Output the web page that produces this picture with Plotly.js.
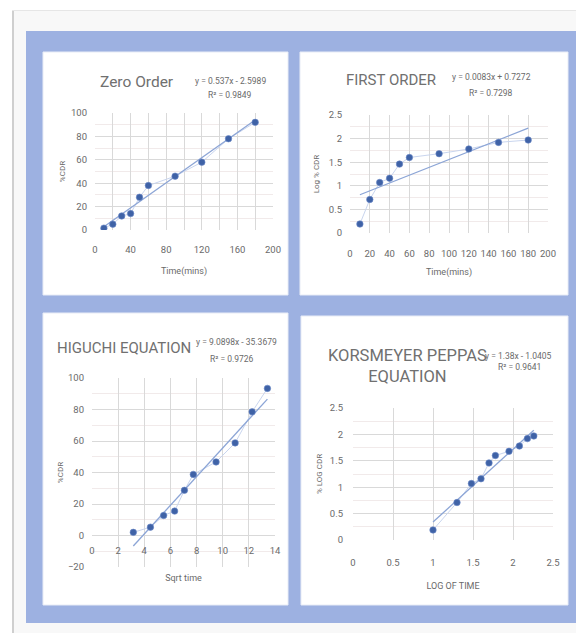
<!DOCTYPE html>
<html>
<head>
<meta charset="utf-8">
<script src="https://cdn.plot.ly/plotly-3.0.1.min.js"></script>
<style>html,body{margin:0;padding:0;background:#fff;}#chart{width:576px;height:633px;}</style>
</head>
<body>
<div id="chart"></div>
<script>
// ---- data ----
const timeMins = [10, 20, 30, 40, 50, 60, 90, 120, 150, 180];
const zeroCdr = [1.6, 5, 12, 14, 28, 38, 46, 58, 78, 92];
const firstLogCdr = [0.19, 0.71, 1.07, 1.16, 1.46, 1.6, 1.68, 1.78, 1.92, 1.97];
const sqrtTime = [3.16, 4.47, 5.48, 6.32, 7.07, 7.75, 9.49, 10.95, 12.25, 13.42];
const higuchiCdr = [2, 5.3, 12.7, 15.5, 28.7, 38.8, 46.7, 58.8, 78.5, 93.4];
const logTime = [1, 1.3, 1.48, 1.6, 1.7, 1.78, 1.95, 2.08, 2.18, 2.26];
const kpLogCdr = [0.19, 0.71, 1.07, 1.16, 1.46, 1.6, 1.68, 1.78, 1.92, 1.97];

const chartTitles = ['Zero Order', 'FIRST ORDER', 'HIGUCHI EQUATION', 'KORSMEYER PEPPAS<br>EQUATION'];
const xTitles = ['Time(mins)', 'Time(mins)', 'Sqrt time', 'LOG OF TIME'];
const yTitles = ['%CDR', 'Log % CDR', '%CDR', '% LOG CDR'];
const slopes = [0.537, 0.0083, 9.0898, 1.38];
const intercepts = [-2.5989, 0.7272, -35.3679, -1.0405];
const rSquared = ['0.9849', '0.7298', '0.9726', '0.9641'];
const eqTexts = ['y = 0.537x - 2.5989', 'y = 0.0083x + 0.7272', 'y = 9.0898x - 35.3679', 'y = 1.38x - 1.0405'];

// ---- helpers ----
const W = 576, H = 633;
const px = x => x / W;
const py = y => 1 - y / H;
const F = 'Roboto, "Liberation Sans", sans-serif';
const TXT = '#6a6a6a';
const TTL = '#707070';
const MARK = '#3f62a6';
const CONN = '#c9d5ee';
const TREND = '#8ca5d6';
const GRID = '#d9d9d9';

const xs = [timeMins, timeMins, sqrtTime, logTime];
const ys = [zeroCdr, firstLogCdr, higuchiCdr, kpLogCdr];

const traces = [];
for (let i = 0; i < 4; i++) {
  const xa = 'x' + (i ? i + 1 : ''), ya = 'y' + (i ? i + 1 : '');
  const X = xs[i], Y = ys[i];
  const x0 = X[0], x1 = X[X.length - 1];
  traces.push({x: X, y: Y, xaxis: xa, yaxis: ya, type: 'scatter', mode: 'lines',
    line: {color: CONN, width: 1}, hoverinfo: 'skip', showlegend: false});
  traces.push({x: [x0, x1], y: [slopes[i] * x0 + intercepts[i], slopes[i] * x1 + intercepts[i]],
    xaxis: xa, yaxis: ya, type: 'scatter', mode: 'lines',
    line: {color: TREND, width: 1.3}, showlegend: false});
  traces.push({x: X, y: Y, xaxis: xa, yaxis: ya, type: 'scatter', mode: 'markers',
    marker: {color: MARK, size: 6.5, line: {color: '#6a88c8', width: 0.6}}, showlegend: false});
}
// invisible trace on the label-only overlay axis of the Zero Order chart
traces.push({x: [timeMins[0]], y: [zeroCdr[0]], xaxis: 'x5', yaxis: 'y', type: 'scatter',
  mode: 'markers', marker: {opacity: 0}, hoverinfo: 'skip', showlegend: false});

const tickfont = {family: F, size: 9.5, color: TXT};
function xax(l, r, range, dtick, yAnchor, titleText, standoff, lblOff, extra) {
  return Object.assign({domain: [px(l), px(r)], range: range, dtick: dtick, anchor: yAnchor,
    showgrid: true, gridcolor: GRID, gridwidth: 1, zeroline: false, showline: false,
    ticks: '', tickfont: tickfont, tickangle: 0, automargin: false, fixedrange: true,
    ticklabelstandoff: lblOff,
    title: {text: titleText, font: {family: F, size: 9, color: TXT}, standoff: standoff}}, extra || {});
}
function yax(b, t, range, dtick, minor, xAnchor, titleText, standoff, lblOff) {
  return {domain: [py(b), py(t)], range: range, dtick: dtick, anchor: xAnchor,
    showgrid: true, gridcolor: GRID, gridwidth: 1, zeroline: false, showline: false,
    minor: {dtick: minor, showgrid: true, gridcolor: '#f1eaea', gridwidth: 1},
    ticks: '', tickfont: tickfont, automargin: false, fixedrange: true,
    ticklabelstandoff: lblOff,
    title: {text: titleText, font: {family: F, size: 8, color: TXT}, standoff: standoff}};
}

const layout = {
  width: W, height: H, margin: {l: 0, r: 0, t: 0, b: 0},
  paper_bgcolor: '#ffffff', plot_bgcolor: 'rgba(0,0,0,0)', showlegend: false,
  // grid every 20 (no labels); labels every 40 come from the overlay axis xaxis5
  xaxis: xax(95, 273, [0, 200], 20, 'y', '', 14, 12, {showticklabels: false}),
  xaxis5: xax(95, 273, [0, 200], 40, 'y', xTitles[0], 14, 12, {overlaying: 'x', showgrid: false}),
  yaxis: yax(230, 113, [0, 100], 20, 10, 'x', yTitles[0], 4, 7),
  xaxis2: xax(350, 548, [0, 200], 20, 'y2', xTitles[1], 11, 13),
  yaxis2: yax(233, 115, [0, 2.5], 0.5, 0.25, 'x2', yTitles[1], 8, 7),
  xaxis3: xax(92, 275, [0, 14], 2, 'free', xTitles[2], 20, 7, {position: py(536)}),
  yaxis3: yax(567, 378, [-20, 100], 20, 10, 'x3', yTitles[2], 3, 7),
  xaxis4: xax(353, 553, [0, 2.5], 0.5, 'y4', xTitles[3], 16, 15),
  yaxis4: yax(540, 408, [0, 2.5], 0.5, 0.25, 'x4', yTitles[3], 6, 9),
  shapes: [
    {type: 'rect', xref: 'paper', yref: 'paper', x0: px(12), x1: px(576), y0: py(633), y1: py(10),
      fillcolor: '#f8f8f8', line: {width: 0}, layer: 'below'},
    {type: 'line', xref: 'paper', yref: 'paper', x0: px(13), x1: px(13), y0: py(633), y1: py(10),
      line: {color: '#cfcfcf', width: 2}, layer: 'below'},
    {type: 'line', xref: 'paper', yref: 'paper', x0: px(12), x1: px(576), y0: py(10.5), y1: py(10.5),
      line: {color: '#e6e6e6', width: 1}, layer: 'below'},
    {type: 'rect', xref: 'paper', yref: 'paper', x0: px(26), x1: px(576), y0: py(623), y1: py(31),
      fillcolor: '#9db1e1', line: {width: 0}, layer: 'below'},
    {type: 'rect', xref: 'paper', yref: 'paper', x0: px(43), x1: px(288), y0: py(295), y1: py(52),
      fillcolor: '#ffffff', line: {color: '#e8ecf6', width: 1}, layer: 'below'},
    {type: 'rect', xref: 'paper', yref: 'paper', x0: px(300), x1: px(568), y0: py(295), y1: py(52),
      fillcolor: '#ffffff', line: {color: '#e8ecf6', width: 1}, layer: 'below'},
    {type: 'rect', xref: 'paper', yref: 'paper', x0: px(43), x1: px(288), y0: py(605), y1: py(313),
      fillcolor: '#ffffff', line: {color: '#e8ecf6', width: 1}, layer: 'below'},
    {type: 'rect', xref: 'paper', yref: 'paper', x0: px(301), x1: px(568), y0: py(605), y1: py(316),
      fillcolor: '#ffffff', line: {color: '#e8ecf6', width: 1}, layer: 'below'}
  ],
  annotations: []
};

const titlePos = [[137, 82, 15.5], [391, 80, 15], [124, 348, 15], [407, 366, 16.5]];
const eqPos = [[230, 81], [491, 77], [236, 342], [518, 356]];
const r2Pos = [[230, 95], [491, 93], [232, 359], [519, 367]];
for (let i = 0; i < 4; i++) {
  layout.annotations.push({text: chartTitles[i], xref: 'paper', yref: 'paper',
    x: px(titlePos[i][0]), y: py(titlePos[i][1]), xanchor: 'center', yanchor: 'middle',
    showarrow: false, font: {family: F, size: titlePos[i][2], color: TTL}});
  layout.annotations.push({text: eqTexts[i], xref: 'paper', yref: 'paper',
    x: px(eqPos[i][0]), y: py(eqPos[i][1]), xanchor: 'center', yanchor: 'middle',
    showarrow: false, font: {family: F, size: 8.5, color: TXT}});
  layout.annotations.push({text: 'R² = ' + rSquared[i], xref: 'paper', yref: 'paper',
    x: px(r2Pos[i][0]), y: py(r2Pos[i][1]), xanchor: 'center', yanchor: 'middle',
    showarrow: false, font: {family: F, size: 8.5, color: TXT}});
}

Plotly.newPlot('chart', traces, layout, {displayModeBar: false, staticPlot: true});
</script>
</body>
</html>
